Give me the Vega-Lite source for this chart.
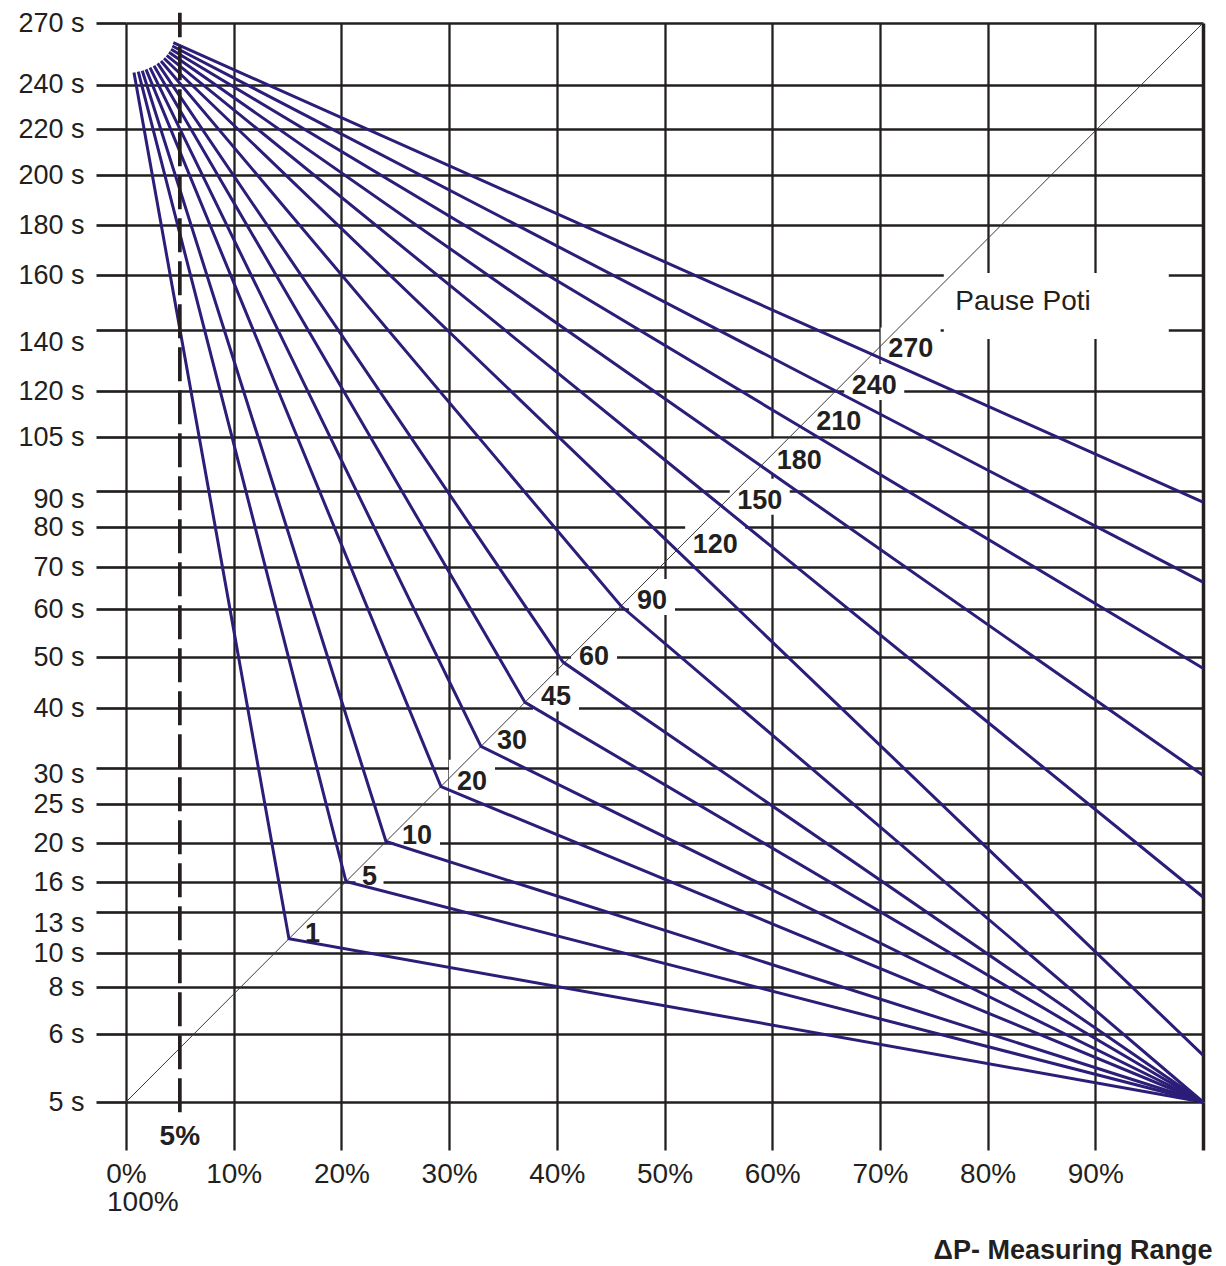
{
  "$schema": "https://vega.github.io/schema/vega-lite/v6.json",
  "width": 1077,
  "height": 1079,
  "autosize": {"type": "none"},
  "padding": {"left": 126, "top": 23, "right": 23, "bottom": 164},
  "background": "white",
  "config": {"view": {"stroke": null}, "font": "Liberation Sans"},
  "datasets": {
    "lines": [
      {"pause": 1, "order": 1, "pct": 0.74, "s": 245.8}, {"pause": 1, "order": 2, "pct": 15.13, "s": 11.05}, {"pause": 1, "order": 3, "pct": 100, "s": 5},
      {"pause": 5, "order": 1, "pct": 1.14, "s": 246.3}, {"pause": 5, "order": 2, "pct": 20.43, "s": 16.05}, {"pause": 5, "order": 3, "pct": 100, "s": 5},
      {"pause": 10, "order": 1, "pct": 1.51, "s": 246.7}, {"pause": 10, "order": 2, "pct": 24.14, "s": 20.2}, {"pause": 10, "order": 3, "pct": 100, "s": 5},
      {"pause": 20, "order": 1, "pct": 1.86, "s": 247.4}, {"pause": 20, "order": 2, "pct": 29.25, "s": 27.4}, {"pause": 20, "order": 3, "pct": 100, "s": 5},
      {"pause": 30, "order": 1, "pct": 2.23, "s": 248.2}, {"pause": 30, "order": 2, "pct": 32.96, "s": 33.6}, {"pause": 30, "order": 3, "pct": 100, "s": 5},
      {"pause": 45, "order": 1, "pct": 2.6, "s": 249.2}, {"pause": 45, "order": 2, "pct": 37.05, "s": 41.1}, {"pause": 45, "order": 3, "pct": 100, "s": 5},
      {"pause": 60, "order": 1, "pct": 2.94, "s": 250.3}, {"pause": 60, "order": 2, "pct": 40.58, "s": 49.0}, {"pause": 60, "order": 3, "pct": 100, "s": 5},
      {"pause": 90, "order": 1, "pct": 3.25, "s": 251.5}, {"pause": 90, "order": 2, "pct": 45.96, "s": 60.7}, {"pause": 90, "order": 3, "pct": 100, "s": 5},
      {"pause": 120, "order": 1, "pct": 3.53, "s": 252.8}, {"pause": 120, "order": 2, "pct": 51.13, "s": 74.2}, {"pause": 120, "order": 3, "pct": 100, "s": 5.69},
      {"pause": 150, "order": 1, "pct": 3.78, "s": 254.2}, {"pause": 150, "order": 2, "pct": 55.27, "s": 85.9}, {"pause": 150, "order": 3, "pct": 100, "s": 14.5},
      {"pause": 180, "order": 1, "pct": 3.99, "s": 255.7}, {"pause": 180, "order": 2, "pct": 58.94, "s": 97.0}, {"pause": 180, "order": 3, "pct": 100, "s": 29.0},
      {"pause": 210, "order": 1, "pct": 4.18, "s": 257.2}, {"pause": 210, "order": 2, "pct": 62.6, "s": 108.4}, {"pause": 210, "order": 3, "pct": 100, "s": 47.8},
      {"pause": 240, "order": 1, "pct": 4.3, "s": 258.8}, {"pause": 240, "order": 2, "pct": 65.9, "s": 120.0}, {"pause": 240, "order": 3, "pct": 100, "s": 66.4},
      {"pause": 270, "order": 1, "pct": 4.39, "s": 260.4}, {"pause": 270, "order": 2, "pct": 69.28, "s": 132.0}, {"pause": 270, "order": 3, "pct": 100, "s": 86.9}
    ],
    "diag": [{"pct": 0, "s": 5}, {"pct": 100, "s": 270}],
    "dash": [{"pct": 5, "s": 4.85, "s2": 275}],
    "poti": [{"label": "Pause Poti", "pct": 77, "s": 150.2}],
    "notes": [{"label": "5%", "pct": 5, "s": 5}, {"label": "100%", "pct": 0, "s": 5}]
  },
  "encoding": {
    "x": {
      "field": "pct", "type": "quantitative",
      "scale": {"domain": [0, 100], "nice": false, "zero": false},
      "axis": {
        "values": [0, 10, 20, 30, 40, 50, 60, 70, 80, 90, 100],
        "labelExpr": "datum.value == 100 ? '' : datum.value + '%'",
        "grid": true, "gridColor": "#231f20", "gridOpacity": 1,
        "gridWidth": {"condition": {"test": "datum.value == 100", "value": 3.5}, "value": 2.3},
        "ticks": true, "tickSize": 48, "tickColor": "#231f20",
        "tickWidth": {"condition": {"test": "datum.value == 100", "value": 3.5}, "value": 2.3},
        "domain": false,
        "labelFont": "Liberation Sans", "labelFontSize": 28, "labelColor": "#231f20", "labelPadding": 10,
        "labelOverlap": false, "labelFlush": false, "labelBound": false,
        "title": "ΔP- Measuring Range", "titleFont": "Liberation Sans", "titleFontSize": 27, "titleFontWeight": "bold",
        "titleColor": "#231f20", "titleAlign": "right", "titleBaseline": "alphabetic", "titleAnchor": "end",
        "titleX": 1086, "titleY": 156
      }
    },
    "y": {
      "field": "s", "type": "quantitative",
      "scale": {
        "type": "linear",
        "domain": [5, 6, 8, 10, 13, 16, 20, 25, 30, 40, 50, 60, 70, 80, 90, 105, 120, 140, 160, 180, 200, 220, 240, 270],
        "range": [1079, 1011, 964, 930, 889, 859, 820, 781, 745, 685, 634, 586, 544, 504, 468, 414, 368, 307, 252, 202, 152, 106, 61.5, 0],
        "nice": false, "zero": false
      },
      "axis": {
        "values": [5, 6, 8, 10, 13, 16, 20, 25, 30, 40, 50, 60, 70, 80, 90, 105, 120, 140, 160, 180, 200, 220, 240, 270],
        "labelExpr": "datum.value + ' s'",
        "grid": true, "gridColor": "#231f20", "gridWidth": 2.7, "gridOpacity": 1,
        "ticks": true, "tickSize": 30, "tickColor": "#231f20", "tickWidth": 2.7,
        "domain": false,
        "labelFont": "Liberation Sans", "labelFontSize": 27, "labelColor": "#231f20", "labelPadding": 12,
        "labelOverlap": false, "labelFlush": false, "labelBound": false,
        "labelBaseline": "middle",
        "labelOffset": {"condition": [
          {"test": "datum.value == 140", "value": 12},
          {"test": "datum.value == 13", "value": 11},
          {"test": "datum.value == 90", "value": 8},
          {"test": "datum.value == 30", "value": 6}
        ], "value": 0},
        "title": null
      }
    }
  },
  "layer": [
    {
      "data": {"name": "lines"},
      "transform": [{"filter": "datum.order == 2 && datum.pause >= 10 && datum.pause < 100"}],
      "mark": {"type": "point", "shape": "M-1.15,-0.9H1.15V0.9H-1.15Z", "size": 1600, "filled": true, "color": "white", "fill": "white", "opacity": 1, "strokeWidth": 0, "xOffset": 31, "yOffset": -9}
    },
    {
      "data": {"name": "lines"},
      "transform": [{"filter": "datum.order == 2 && datum.pause >= 100"}],
      "mark": {"type": "point", "shape": "M-1.5,-0.9H1.5V0.9H-1.5Z", "size": 1600, "filled": true, "color": "white", "fill": "white", "opacity": 1, "strokeWidth": 0, "xOffset": 38.5, "yOffset": -9}
    },
    {
      "data": {"name": "lines"},
      "transform": [{"filter": "datum.order == 2 && datum.pause == 5"}],
      "mark": {"type": "point", "shape": "M-0.7,-0.9H0.7V0.9H-0.7Z", "size": 1600, "filled": true, "color": "white", "fill": "white", "opacity": 1, "strokeWidth": 0, "xOffset": 23.5, "yOffset": -9}
    },
    {
      "data": {"name": "poti"},
      "mark": {"type": "point", "shape": "M-5.625,-1.65H5.625V1.65H-5.625Z", "size": 1600, "filled": true, "color": "white", "fill": "white", "opacity": 1, "strokeWidth": 0, "xOffset": 101, "yOffset": 4}
    },
    {
      "data": {"name": "diag"},
      "mark": {"type": "line", "color": "#3a3a3a", "strokeWidth": 1},
      "encoding": {}
    },
    {
      "data": {"name": "lines"},
      "mark": {"type": "line", "color": "#2b1d78", "strokeWidth": 3, "strokeJoin": "miter"},
      "encoding": {
        "detail": {"field": "pause", "type": "nominal"},
        "order": {"field": "order", "type": "quantitative"}
      }
    },
    {
      "data": {"name": "dash"},
      "mark": {"type": "rule", "color": "#231f20", "strokeWidth": 3.7, "strokeDash": [34, 9]},
      "encoding": {"y2": {"field": "s2"}}
    },
    {
      "data": {"name": "lines"},
      "transform": [{"filter": "datum.order == 2"}],
      "mark": {"type": "text", "font": "Liberation Sans", "fontSize": 27, "fontWeight": "bold", "color": "#231f20", "align": "left", "baseline": "middle", "dx": 16, "dy": -5},
      "encoding": {"text": {"field": "pause", "type": "nominal"}}
    },
    {
      "data": {"name": "poti"},
      "mark": {"type": "text", "font": "Liberation Sans", "fontSize": 28, "color": "#231f20", "align": "left", "baseline": "middle"},
      "encoding": {"text": {"field": "label", "type": "nominal"}}
    },
    {
      "data": {"name": "notes"},
      "transform": [{"filter": "datum.label == '5%'"}],
      "mark": {"type": "text", "font": "Liberation Sans", "fontSize": 28, "fontWeight": "bold", "color": "#231f20", "align": "center", "baseline": "alphabetic", "dy": 43},
      "encoding": {"text": {"field": "label", "type": "nominal"}}
    },
    {
      "data": {"name": "notes"},
      "transform": [{"filter": "datum.label == '100%'"}],
      "mark": {"type": "text", "font": "Liberation Sans", "fontSize": 28, "color": "#231f20", "align": "left", "baseline": "alphabetic", "dx": -19, "dy": 109},
      "encoding": {"text": {"field": "label", "type": "nominal"}}
    }
  ]
}
